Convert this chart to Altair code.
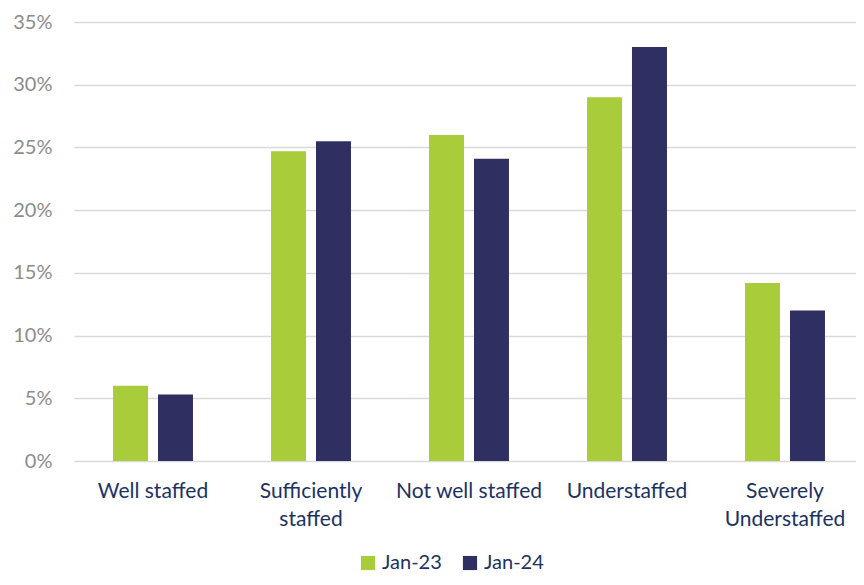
import altair as alt
import pandas as pd

categories = ["Well staffed", "Sufficiently|staffed", "Not well staffed", "Understaffed", "Severely|Understaffed"]
series = ["Jan-23", "Jan-24"]
jan23 = [6.0, 24.7, 26.0, 29.0, 14.2]
jan24 = [5.3, 25.5, 24.1, 33.0, 12.0]
y_ticks = [0, 5, 10, 15, 20, 25, 30, 35]

rows = []
for c, a, b in zip(categories, jan23, jan24):
    rows.append({"category": c, "series": "Jan-23", "value": a / 100})
    rows.append({"category": c, "series": "Jan-24", "value": b / 100})
df = pd.DataFrame(rows)

FONT = "Lato"
NAVY_TEXT = "#1B3263"

chart = alt.Chart(df).mark_bar().encode(
    x=alt.X("category:N", sort=categories,
            scale=alt.Scale(paddingInner=0.494, paddingOuter=0.247, range=[0, 790]),
            axis=alt.Axis(title=None, labelAngle=0, ticks=False, domain=False,
                          labelExpr="split(datum.label, '|')",
                          labelFont=FONT, labelFontSize=21, labelColor=NAVY_TEXT,
                          labelPadding=19, labelLineHeight=28)),
    xOffset=alt.XOffset("series:N", sort=series,
                        scale=alt.Scale(paddingInner=0.222, paddingOuter=0)),
    y=alt.Y("value:Q",
            scale=alt.Scale(domain=[0, 0.35], nice=False),
            axis=alt.Axis(title=None, values=[t / 100 for t in y_ticks], format=".0%",
                          ticks=False, domain=False, grid=True,
                          gridColor="#D9D9D9", gridWidth=1.5,
                          labelFont=FONT, labelFontSize=20, labelColor="#8C8C8C",
                          labelPadding=22)),
    color=alt.Color("series:N", sort=series,
                    scale=alt.Scale(domain=series, range=["#A9CD3A", "#2F3061"]),
                    legend=alt.Legend(title=None, orient="none", direction="horizontal",
                                      legendX=284, legendY=531,
                                      symbolType="square", symbolSize=200,
                                      symbolStrokeWidth=0,
                                      labelFont=FONT, labelFontSize=20,
                                      labelColor=NAVY_TEXT, columnPadding=18,
                                      symbolOffset=0, labelOffset=4)),
).properties(
    width=782, height=439,
    padding={"left": 66, "top": 14, "right": 0, "bottom": 116},
    autosize=alt.AutoSizeParams(type="none"),
).configure_view(stroke=None)

chart.save("out.html", embed_options={"renderer": "svg", "actions": False})
